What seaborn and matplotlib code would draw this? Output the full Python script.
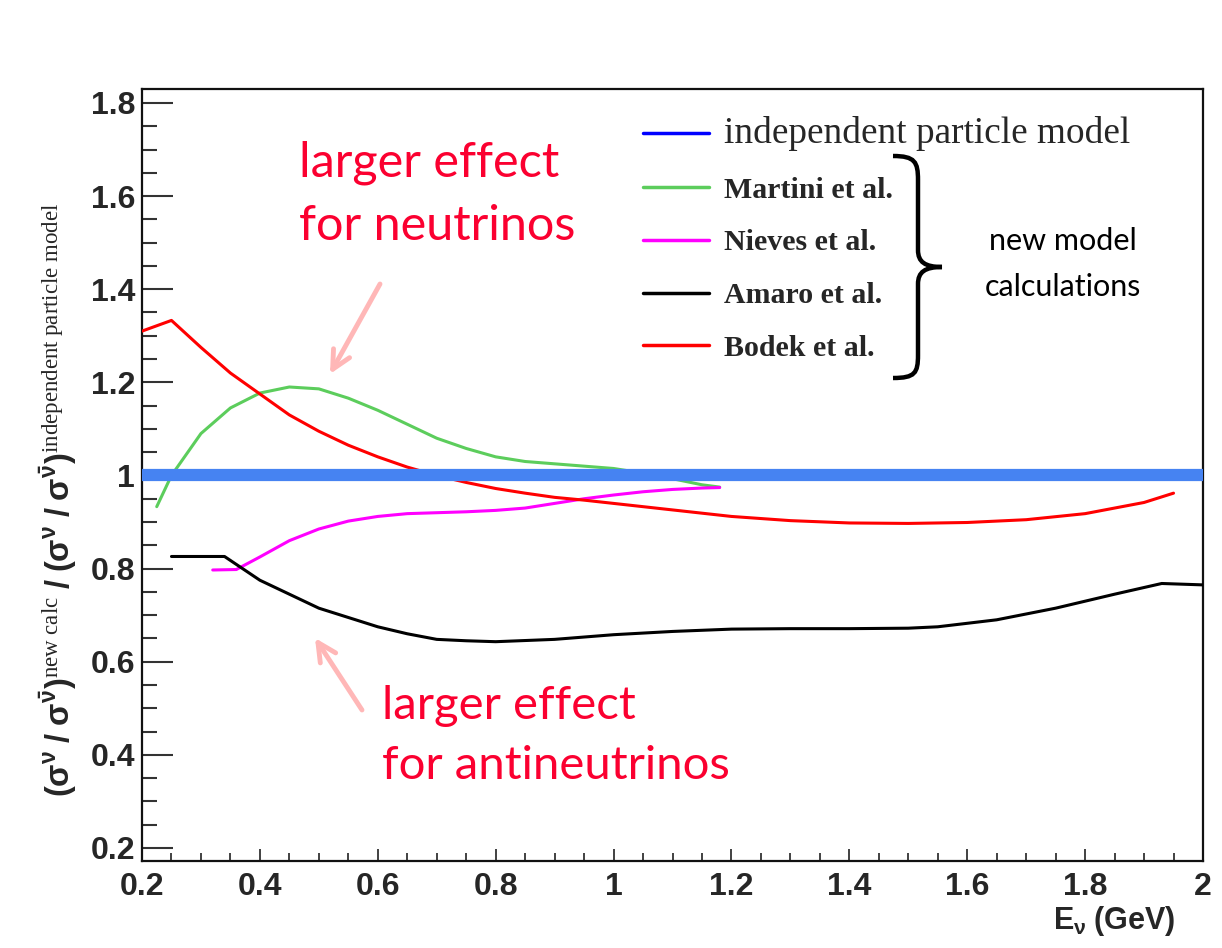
import numpy as np
import pandas as pd
import matplotlib
matplotlib.use("Agg")
import matplotlib.pyplot as plt
import seaborn as sns
from matplotlib.lines import Line2D
from matplotlib.path import Path
from matplotlib.patches import PathPatch
from matplotlib.ticker import MultipleLocator

sns.set_theme(style="white")
plt.rcParams['font.family'] = ['Liberation Sans', 'DejaVu Sans']
plt.rcParams['mathtext.fontset'] = 'custom'
plt.rcParams['mathtext.rm'] = 'Liberation Serif'
plt.rcParams['mathtext.it'] = 'Liberation Serif:italic'
plt.rcParams['mathtext.bf'] = 'Liberation Sans:bold'

# ---------------- data ----------------
ipm_x = [0.2, 2.0]
ipm_y = [1.0, 1.0]

martini_x = [0.225, 0.25, 0.3, 0.35, 0.4, 0.45, 0.5, 0.55, 0.6, 0.65, 0.7,
             0.75, 0.8, 0.85, 0.9, 0.95, 1.0, 1.05, 1.1, 1.15, 1.18]
martini_y = [0.933, 1.0, 1.09, 1.145, 1.177, 1.19, 1.186, 1.166, 1.14, 1.11,
             1.08, 1.058, 1.04, 1.03, 1.025, 1.02, 1.015, 1.005, 0.993, 0.98, 0.975]

nieves_x = [0.32, 0.36, 0.4, 0.45, 0.5, 0.55, 0.6, 0.65, 0.7, 0.75, 0.8,
            0.85, 0.9, 0.95, 1.0, 1.05, 1.1, 1.15, 1.18]
nieves_y = [0.797, 0.798, 0.825, 0.86, 0.885, 0.902, 0.912, 0.918, 0.92, 0.922,
            0.925, 0.93, 0.94, 0.95, 0.958, 0.965, 0.97, 0.973, 0.974]

amaro_x = [0.25, 0.34, 0.4, 0.45, 0.5, 0.55, 0.6, 0.65, 0.7, 0.75, 0.8, 0.9,
           1.0, 1.1, 1.2, 1.3, 1.4, 1.5, 1.55, 1.65, 1.75, 1.85, 1.93, 2.0]
amaro_y = [0.826, 0.826, 0.775, 0.745, 0.715, 0.695, 0.675, 0.66, 0.648, 0.645,
           0.643, 0.648, 0.658, 0.665, 0.67, 0.671, 0.671, 0.672, 0.675, 0.69,
           0.715, 0.745, 0.768, 0.765]

bodek_x = [0.2, 0.25, 0.3, 0.35, 0.4, 0.45, 0.5, 0.55, 0.6, 0.65, 0.7, 0.75,
           0.8, 0.85, 0.9, 0.95, 1.0, 1.1, 1.2, 1.3, 1.4, 1.5, 1.6, 1.7, 1.8,
           1.9, 1.95]
bodek_y = [1.31, 1.333, 1.275, 1.22, 1.175, 1.13, 1.095, 1.065, 1.04, 1.018,
           1.0, 0.985, 0.972, 0.962, 0.953, 0.947, 0.94, 0.926, 0.912, 0.903,
           0.898, 0.897, 0.899, 0.905, 0.918, 0.942, 0.962]

legend_labels = ["independent particle model", "Martini et al.", "Nieves et al.",
                 "Amaro et al.", "Bodek et al."]
x_ticks = [0.2, 0.4, 0.6, 0.8, 1.0, 1.2, 1.4, 1.6, 1.8, 2.0]
x_ticklabels = ["0.2", "0.4", "0.6", "0.8", "1", "1.2", "1.4", "1.6", "1.8", "2"]
y_ticks = [0.2, 0.4, 0.6, 0.8, 1.0, 1.2, 1.4, 1.6, 1.8]
y_ticklabels = ["0.2", "0.4", "0.6", "0.8", "1", "1.2", "1.4", "1.6", "1.8"]

# ---------------- figure ----------------
W, H = 1222, 948
fig = plt.figure(figsize=(W / 100, H / 100), dpi=100)
fig.patch.set_facecolor("white")
ax = fig.add_axes([142 / W, 1 - 861 / H, (1203 - 142) / W, (861 - 89) / H])
ax.set_facecolor("white")

def fp(px, py):
    return (px / W, 1 - py / H)

c_blue = "#4683f2"
c_green = "#5ccd5c"
c_mag = "#ff00ff"
c_black = "#000000"
c_red = "#ff0000"

sns.lineplot(x=ipm_x, y=ipm_y, ax=ax, color=c_blue, lw=8.8, zorder=5)
sns.lineplot(x=martini_x, y=martini_y, ax=ax, color=c_green, lw=2.2, zorder=3)
sns.lineplot(x=nieves_x, y=nieves_y, ax=ax, color=c_mag, lw=2.2, zorder=3)
sns.lineplot(x=amaro_x, y=amaro_y, ax=ax, color=c_black, lw=2.2, zorder=3)
sns.lineplot(x=bodek_x, y=bodek_y, ax=ax, color=c_red, lw=2.2, zorder=3)

ax.set_xlim(0.2, 2.0)
ax.set_ylim(0.172, 1.83)
ax.set_xticks(x_ticks)
ax.set_xticklabels(x_ticklabels)
ax.set_yticks(y_ticks)
ax.set_yticklabels(y_ticklabels)
ax.xaxis.set_minor_locator(MultipleLocator(0.05))
ax.yaxis.set_minor_locator(MultipleLocator(0.05))
ax.tick_params(axis="y", which="major", direction="in", length=22, width=1.5,
               color="#333333", labelsize=23, pad=5, left=True, right=False)
ax.tick_params(axis="y", which="minor", direction="in", length=11, width=1.5,
               color="#333333", left=True, right=False)
ax.tick_params(axis="x", which="major", direction="in", length=9, width=1.3,
               color="#333333", labelsize=23, pad=8, bottom=True, top=False)
ax.tick_params(axis="x", which="minor", direction="in", length=6, width=1.3,
               color="#333333", bottom=True, top=False)
for lab in ax.get_xticklabels() + ax.get_yticklabels():
    lab.set_fontweight("bold")
for s in ax.spines.values():
    s.set_color("#111111")
    s.set_linewidth(1.6)
ax.set_xlabel("")
ax.set_ylabel("")

# axis titles
fig.text(*fp(1176, 921), r"$\mathbf{E_{\nu}\ (GeV)}$", ha="right", va="center",
         fontsize=22)
ylab = (r"$\mathbf{(\sigma^{\nu}\ /\ \sigma^{\bar{\nu}})}^{\mathrm{new\ calc}}"
        r"\ \mathbf{/\ (\sigma^{\nu}\ /\ \sigma^{\bar{\nu}})}^{\mathrm{independent\ particle\ model}}$")
fig.text(*fp(58, 500), ylab, rotation=90, ha="center", va="center", fontsize=23.5)

# legend
handles = [Line2D([], [], color="#0000ff", lw=2.5),
           Line2D([], [], color=c_green, lw=2.5),
           Line2D([], [], color=c_mag, lw=2.5),
           Line2D([], [], color=c_black, lw=2.5),
           Line2D([], [], color=c_red, lw=2.5)]
leg = ax.legend(handles, legend_labels, loc="upper left",
                bbox_to_anchor=((643 - 142) / 1061, 1 - (116 - 89) / 772),
                frameon=False, borderpad=0, borderaxespad=0, handlelength=2.2,
                handletextpad=0.5, labelspacing=0.86,
                prop={"family": "Liberation Serif", "weight": "bold", "size": 21.5})
texts = leg.get_texts()
texts[0].set_fontweight("normal")
texts[0].set_fontsize(26.8)

# brace
pts = [fp(893, 156), fp(915, 156), fp(918, 162), fp(918, 180),
       fp(918, 250), fp(918, 262), fp(925, 267), fp(942, 267),
       fp(925, 267), fp(918, 272), fp(918, 284),
       fp(918, 355), fp(918, 373), fp(915, 378), fp(893, 378)]
codes = [Path.MOVETO, Path.CURVE4, Path.CURVE4, Path.CURVE4,
         Path.LINETO, Path.CURVE4, Path.CURVE4, Path.CURVE4,
         Path.CURVE4, Path.CURVE4, Path.CURVE4,
         Path.LINETO, Path.CURVE4, Path.CURVE4, Path.CURVE4]
fig.patches.append(PathPatch(Path(pts, codes), transform=fig.transFigure,
                             fill=False, lw=3.2, color="black", capstyle="butt"))
fig.text(*fp(1063, 264), "new model\ncalculations", ha="center", va="center",
         fontsize=22, family="Lato", linespacing=1.75, color="black")

# red annotations
c_ann = "#fb0030"
fig.text(*fp(299, 194), "larger effect\nfor neutrinos", ha="left", va="center",
         fontsize=35, family="Lato", color=c_ann, linespacing=1.52)
fig.text(*fp(382, 736), "larger effect\nfor antineutrinos", ha="left", va="center",
         fontsize=34, family="Lato", color=c_ann, linespacing=1.55)

# pink arrows
c_arrow = "#ffb7b7"
ax.annotate("", xy=fp(330, 374), xytext=fp(380, 284), xycoords="figure fraction",
            textcoords="figure fraction",
            arrowprops=dict(arrowstyle="->,head_length=1.1,head_width=0.55",
                            color=c_arrow, lw=3.5, shrinkA=0, shrinkB=0))
ax.annotate("", xy=fp(315, 638), xytext=fp(362, 710), xycoords="figure fraction",
            textcoords="figure fraction",
            arrowprops=dict(arrowstyle="->,head_length=1.1,head_width=0.55",
                            color=c_arrow, lw=3.5, shrinkA=0, shrinkB=0))

fig.savefig("out.png", dpi=100, facecolor="white")
